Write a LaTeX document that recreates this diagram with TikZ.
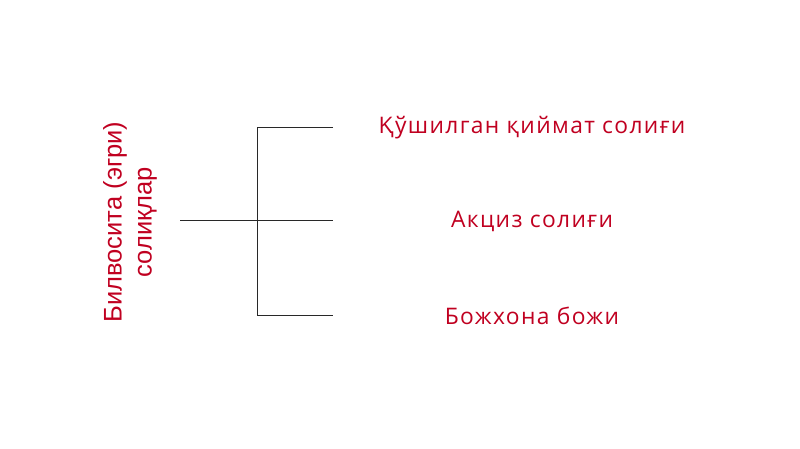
\documentclass[tikz,border=0pt]{standalone}
\usepackage{fontspec}
\setmainfont{Liberation Sans}
\newfontfamily\rightfont[LetterSpace=6]{Open Sans}
\definecolor{txtred}{RGB}{192,0,32}
\definecolor{linegray}{RGB}{40,40,40}
\begin{document}
\begin{tikzpicture}[x=1pt,y=1pt,
  leftlbl/.style={text=txtred,font=\fontsize{25.5}{30}\selectfont,align=center,rotate=90,inner sep=0pt},
  rightlbl/.style={text=txtred,font=\rightfont\fontsize{22.8}{26}\selectfont,inner sep=0pt},
  conn/.style={draw=linegray,line width=1pt}]
\useasboundingbox (0,0) rectangle (800,449);
\node[leftlbl] (root) at (130,227) {Билвосита (эгри)\\солиқлар};
\coordinate (start) at (180,228);
\coordinate (fork) at (257,228);
\coordinate (top) at (257,321);
\coordinate (bot) at (257,133);
\coordinate (e1) at (333,321);
\coordinate (e2) at (333,228);
\coordinate (e3) at (333,133);
\node[rightlbl] (l1) at (532,321) {Қўшилган қиймат солиғи};
\node[rightlbl] (l2) at (532,228) {Акциз солиғи};
\node[rightlbl] (l3) at (532,133) {Божхона божи};
\draw[conn] (start) -- (e2);
\draw[conn] (e1) -- (top) -- (bot) -- (e3);
\end{tikzpicture}
\end{document}
